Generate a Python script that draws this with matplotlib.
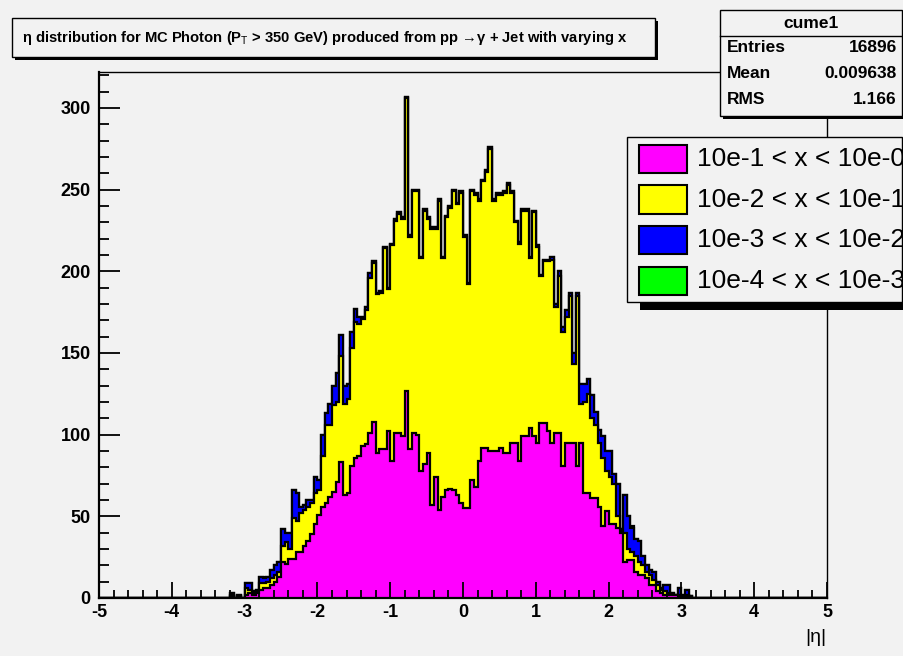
import matplotlib.pyplot as plt
import numpy as np
from matplotlib.patches import Rectangle

plt.rcParams["font.family"] = ["Liberation Sans", "DejaVu Sans"]
plt.rcParams["axes.unicode_minus"] = False
plt.rcParams["mathtext.fontset"] = "custom"
plt.rcParams["mathtext.rm"] = "Liberation Sans"
plt.rcParams["mathtext.bf"] = "Liberation Sans:bold"

# histogram binning: 200 bins over eta in [-5, 5], counts listed from bin 35 on
eta_lo, eta_hi, n_bins = -5.0, 5.0, 200
first_bin = 35

# 10e-1 < x < 10e-0
mag_counts = [
    0, 1, 0, 1, 0, 2, 3, 2, 3, 5, 6, 6, 8, 10, 13, 22, 21, 24, 24, 28,
    28, 32, 35, 39, 45, 51, 56, 58, 62, 65, 71, 83, 63, 64, 81, 86, 87, 93, 94, 101,
    108, 89, 91, 91, 102, 84, 101, 101, 99, 127, 91, 101, 100, 78, 82, 89, 57, 74, 54, 62,
    66, 67, 66, 63, 58, 55, 55, 72, 68, 84, 92, 92, 90, 90, 90, 92, 89, 89, 95, 95,
    84, 99, 99, 104, 99, 95, 107, 107, 102, 95, 101, 101, 81, 95, 95, 95, 81, 95, 64, 64,
    61, 61, 56, 44, 53, 45, 45, 43, 40, 22, 23, 23, 16, 14, 14, 12, 8, 8, 4, 3,
    2, 2, 2, 2, 1, 0, 1, 0,
]
# 10e-2 < x < 10e-1
yel_counts = [
    0, 1, 0, 0, 0, 4, 2, 1, 1, 4, 3, 4, 4, 4, 3, 10, 13, 6, 25, 19,
    24, 22, 21, 19, 19, 15, 31, 48, 44, 53, 49, 65, 56, 58, 72, 83, 81, 78, 82, 95,
    97, 97, 96, 123, 87, 132, 130, 134, 133, 179, 130, 148, 149, 130, 155, 143, 169, 152, 189, 146,
    167, 172, 183, 178, 190, 166, 137, 177, 179, 159, 163, 169, 185, 153, 157, 155, 159, 164, 153, 135,
    133, 138, 138, 104, 137, 120, 90, 99, 104, 112, 77, 96, 82, 77, 90, 48, 104, 24, 56, 61,
    49, 45, 39, 42, 25, 29, 25, 7, 1, 18, 7, 5, 10, 8, 6, 4, 6, 3, 4, 2,
    2, 1, 0, 0, 1, 1, 1, 1,
]
# 10e-3 < x < 10e-2
blu_counts = [
    0, 1, 0, 1, 0, 3, 4, 1, 1, 4, 3, 3, 5, 6, 6, 10, 6, 10, 17, 17,
    4, 3, 4, 2, 10, 6, 13, 7, 13, 12, 18, 13, 11, 9, 10, 8, 4, 1, 2, 3,
    1, 1, 1, 1, 1, 1, 1, 1, 1, 1, 1, 1, 1, 1, 1, 1, 1, 1, 1, 1,
    1, 1, 1, 1, 1, 1, 1, 1, 1, 1, 1, 1, 1, 1, 1, 1, 1, 1, 1, 1,
    1, 1, 1, 1, 1, 1, 1, 1, 1, 2, 2, 3, 3, 4, 2, 7, 2, 12, 11, 9,
    14, 8, 8, 13, 12, 16, 6, 20, 1, 23, 20, 15, 10, 13, 6, 4, 3, 5, 2, 1,
    4, 5, 1, 0, 4, 1, 3, 0,
]
# 10e-4 < x < 10e-3
grn_counts = [
    0, 0, 0, 0, 0, 0, 0, 0, 0, 0, 1, 0, 0, 0, 0, 0, 0, 0, 0, 0,
    0, 0, 0, 0, 0, 0, 0, 0, 0, 0, 0, 0, 0, 0, 0, 0, 0, 0, 0, 0,
    0, 0, 0, 0, 0, 0, 0, 0, 0, 0, 0, 0, 0, 0, 0, 0, 0, 0, 0, 0,
    0, 0, 0, 0, 0, 0, 0, 0, 0, 0, 0, 0, 0, 0, 0, 0, 0, 0, 0, 0,
    0, 0, 0, 0, 0, 0, 0, 0, 0, 0, 0, 0, 0, 0, 0, 0, 0, 0, 0, 0,
    0, 0, 0, 0, 0, 0, 0, 0, 0, 0, 0, 1, 0, 0, 0, 0, 0, 0, 0, 0,
    0, 0, 0, 0, 0, 0, 0, 0,
]

layer_labels = ["10e-1 < x < 10e-0", "10e-2 < x < 10e-1",
                "10e-3 < x < 10e-2", "10e-4 < x < 10e-3"]
layer_colors = ["#ff00ff", "#ffff00", "#0000ff", "#00ff00"]

stats_name = "cume1"
stats_rows = [("Entries", "16896"), ("Mean", "0.009638"), ("RMS", "1.166")]
title = "η distribution for MC Photon (P$_\\mathrm{T}$ > 350 GeV) produced from pp →γ + Jet with varying x"

bg = "#f2f2f2"
W, H = 904, 656


def fx(px):
    return px / W


def fy(py):
    return 1 - py / H


def panel(fig, x0, y0, x1, y1, dx, dy):
    # shadowed box in canvas pixel coordinates (y measured from the top)
    fig.patches.append(Rectangle((fx(x0 + dx), fy(y1 + dy)), (x1 - x0) / W, (y1 - y0) / H,
                                 transform=fig.transFigure, facecolor="black",
                                 edgecolor="none", zorder=5))
    fig.patches.append(Rectangle((fx(x0), fy(y1)), (x1 - x0) / W, (y1 - y0) / H,
                                 transform=fig.transFigure, facecolor=bg,
                                 edgecolor="black", lw=1.0, zorder=6))


fig = plt.figure(figsize=(W / 100, H / 100), dpi=100, facecolor=bg)
ax = fig.add_axes([fx(99), fy(598), (827 - 99) / W, (598 - 72) / H], facecolor=bg)

# build full-length layers and stack them
layers = np.zeros((4, n_bins))
for i, counts in enumerate([mag_counts, yel_counts, blu_counts, grn_counts]):
    layers[i, first_bin:first_bin + len(counts)] = counts
stacked = np.cumsum(layers, axis=0)
edges = np.linspace(eta_lo, eta_hi, n_bins + 1)

# draw the tallest sum first, then each lower partial sum over it
for level, color in reversed(list(zip(stacked, layer_colors))):
    ax.stairs(level, edges, fill=True, facecolor=color, edgecolor="black", lw=1.6)

ax.set_xlim(eta_lo, eta_hi)
ax.set_ylim(0, 322)
ax.set_xticks(np.arange(-5, 6, 1))
ax.set_xticks(np.arange(-5, 5.01, 0.2), minor=True)
ax.set_yticks(np.arange(0, 301, 50))
ax.set_yticks(np.arange(0, 321, 10), minor=True)
ax.tick_params(axis="y", which="major", direction="in", length=15, width=1.3, pad=6,
               labelsize=13, right=False)
ax.tick_params(axis="y", which="minor", direction="in", length=7.5, width=1.3, right=False)
ax.tick_params(axis="x", which="major", direction="in", length=11.5, width=1.3, pad=4,
               labelsize=13, top=False)
ax.tick_params(axis="x", which="minor", direction="in", length=6, width=1.3, top=False)
for lab in ax.get_xticklabels() + ax.get_yticklabels():
    lab.set_fontweight("bold")
for side in ["top", "right"]:
    ax.spines[side].set_linewidth(1.0)
for side in ["left", "bottom"]:
    ax.spines[side].set_linewidth(1.6)
    ax.spines[side].set_zorder(3)

fig.text(fx(826), fy(637), "|η|", ha="right", va="center", fontsize=14)

# title box
panel(fig, 12, 18, 655, 57, 3, 3)
fig.text(fx(22), fy(38), title, ha="left", va="center", fontsize=10.6,
         fontweight="bold", zorder=7)

# statistics box
panel(fig, 720, 10, 902, 116, 3, 3)
fig.lines.append(plt.Line2D([fx(720), fx(902)], [fy(36), fy(36)],
                            transform=fig.transFigure, color="black", lw=1.0, zorder=7))
fig.text(fx(811), fy(23), stats_name, ha="center", va="center", fontsize=12.5,
         fontweight="bold", zorder=7)
for j, (name, val) in enumerate(stats_rows):
    y = 48 + 26 * j
    fig.text(fx(727), fy(y), name, ha="left", va="center", fontsize=12.5,
             fontweight="bold", zorder=7)
    fig.text(fx(897), fy(y), val, ha="right", va="center", fontsize=12.5,
             fontweight="bold", zorder=7)

# legend
panel(fig, 627, 137, 902, 302, 13, 8)
for j, (label, color) in enumerate(zip(layer_labels, layer_colors)):
    yc = 159 + 40.5 * j
    fig.patches.append(Rectangle((fx(639), fy(yc + 14)), 48 / W, 28 / H,
                                 transform=fig.transFigure, facecolor=color,
                                 edgecolor="black", lw=1.5, zorder=7))
    fig.text(fx(697), fy(yc), label, ha="left", va="center", fontsize=19, zorder=7)

fig.savefig("out.png", dpi=100, facecolor=bg)
